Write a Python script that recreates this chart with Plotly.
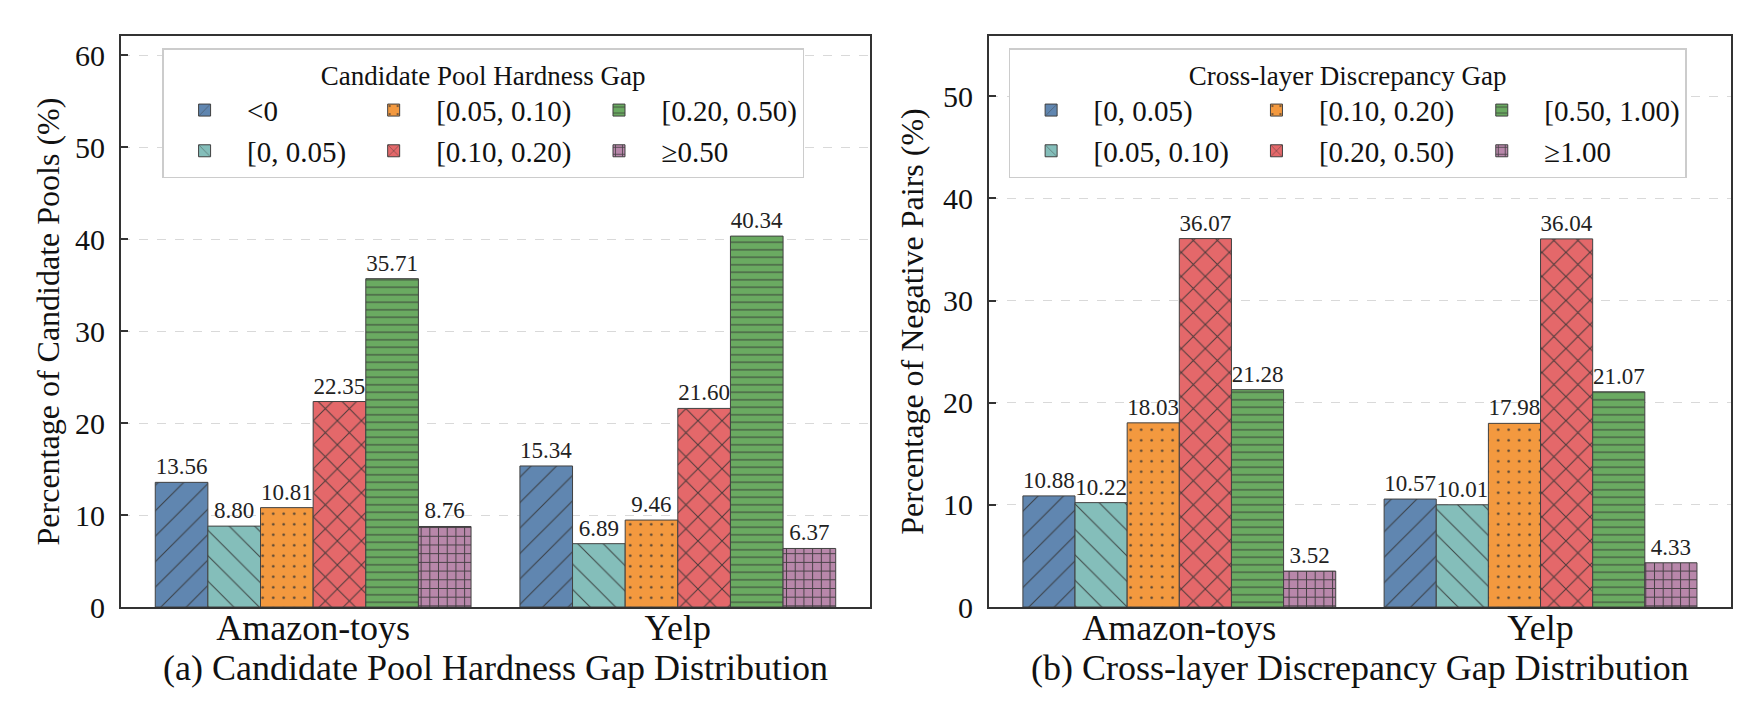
import plotly.graph_objects as go

# data
datasets = ["Amazon-toys", "Yelp"]

hardness_bins = ["<0", "[0, 0.05)", "[0.05, 0.10)", "[0.10, 0.20)", "[0.20, 0.50)", "≥0.50"]
hardness_lt0 = [13.56, 15.34]
hardness_0_005 = [8.80, 6.89]
hardness_005_010 = [10.81, 9.46]
hardness_010_020 = [22.35, 21.60]
hardness_020_050 = [35.71, 40.34]
hardness_ge050 = [8.76, 6.37]

discrep_bins = ["[0, 0.05)", "[0.05, 0.10)", "[0.10, 0.20)", "[0.20, 0.50)", "[0.50, 1.00)", "≥1.00"]
discrep_0_005 = [10.88, 10.57]
discrep_005_010 = [10.22, 10.01]
discrep_010_020 = [18.03, 17.98]
discrep_020_050 = [36.07, 36.04]
discrep_050_100 = [21.28, 21.07]
discrep_ge100 = [3.52, 4.33]

hardness_vals = [hardness_lt0, hardness_0_005, hardness_005_010,
                 hardness_010_020, hardness_020_050, hardness_ge050]
discrep_vals = [discrep_0_005, discrep_005_010, discrep_010_020,
                discrep_020_050, discrep_050_100, discrep_ge100]

# tableau colours at alpha 0.9 on white
colors = ["#6086b0", "#84beba", "#f3993f", "#e4686a", "#6aaa61", "#b887aa"]
# (shape, size, solidity) per bin
patterns = [("/", 18, 0.06), ("\\", 18, 0.06), (".", 10.5, 0.045),
            ("x", 17, 0.12), ("-", 7.5, 0.14), ("+", 8.7, 0.22)]

SERIF = "Liberation Serif"

fig = go.Figure()


def add_panel(bins, vals, xa, ya, legend, tag):
    for i, (name, v) in enumerate(zip(bins, vals)):
        shape, size, sol = patterns[i]
        fig.add_trace(go.Bar(
            x=datasets, y=v, name=name,
            xaxis=xa, yaxis=ya,
            legend=legend, legendgroup=f"{tag}{i // 2}",
            marker=dict(color=colors[i],
                        line=dict(color="#404040", width=1),
                        pattern=dict(shape=shape, size=size, solidity=sol,
                                     bgcolor=colors[i], fillmode="replace",
                                     fgcolor="#333333", fgopacity=0.85)),
            texttemplate="%{y:.2f}", textposition="outside",
            textfont=dict(family=SERIF, size=23, color="#222222"),
            constraintext="none", cliponaxis=False,
        ))


add_panel(hardness_bins, hardness_vals, "x", "y", "legend", "a")
add_panel(discrep_bins, discrep_vals, "x2", "y2", "legend2", "b")

fig.update_layout(
    template="none",
    font=dict(family=SERIF, color="#111111"),
    width=1757, height=704,
    margin=dict(l=0, r=0, t=0, b=0),
    paper_bgcolor="white", plot_bgcolor="white",
    barmode="group", bargap=0.134, bargroupgap=0,
    xaxis=dict(domain=[0.0643, 0.4906], anchor="y",
               title=dict(text="(a) Candidate Pool Hardness Gap Distribution",
                          font=dict(size=36), standoff=2)),
    xaxis2=dict(domain=[0.5583, 0.9806], anchor="y2",
                title=dict(text="(b) Cross-layer Discrepancy Gap Distribution",
                           font=dict(size=36), standoff=2)),
    yaxis=dict(domain=[0.1491, 0.9602], anchor="x", range=[0, 62.1],
               title=dict(text="Percentage of Candidate Pools (%)",
                          font=dict(size=32), standoff=6)),
    yaxis2=dict(domain=[0.1491, 0.9602], anchor="x2", range=[0, 55.9],
                title=dict(text="Percentage of Negative Pairs (%)",
                           font=dict(size=32), standoff=10)),
    legend=dict(x=0.0877, y=0.943,
                title=dict(text="Candidate Pool Hardness Gap", side="top center",
                           font=dict(size=27))),
    legend2=dict(x=0.5695, y=0.943,
                 title=dict(text="Cross-layer Discrepancy Gap", side="top center",
                            font=dict(size=27))),
)

fig.update_xaxes(type="category", range=[-0.527, 1.527], showline=True, mirror=True,
                 linecolor="#333333", linewidth=2, ticks="", showgrid=False,
                 tickfont_family=SERIF, tickfont_size=36, tickfont_color="#111111",
                 ticklabelstandoff=-12)
fig.update_yaxes(showline=True, mirror=True, linecolor="#333333", linewidth=2,
                 ticks="inside", ticklen=7, tickwidth=1.5, tickcolor="#333333",
                 dtick=10, showgrid=True, gridcolor="#d9d9d9", griddash="dash",
                 gridwidth=1, zeroline=False, ticklabelstandoff=8,
                 tickfont_family=SERIF, tickfont_size=30, tickfont_color="#111111")
fig.update_layout(legend=dict(orientation="h", xanchor="left", yanchor="top",
                              bgcolor="white", bordercolor="#cccccc", borderwidth=1.5,
                              itemwidth=75, font_family=SERIF, font_size=29),
                  legend2=dict(orientation="h", xanchor="left", yanchor="top",
                               bgcolor="white", bordercolor="#cccccc", borderwidth=1.5,
                               itemwidth=75, font_family=SERIF, font_size=29))

fig.write_html("out.html")
